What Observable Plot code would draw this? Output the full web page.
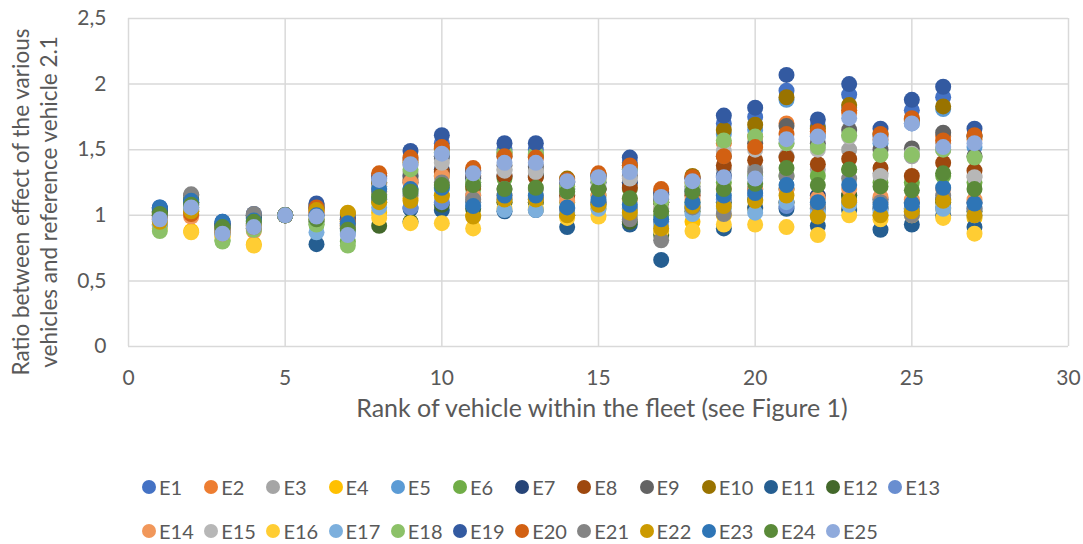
<!DOCTYPE html>
<html>
<head>
<meta charset="utf-8">
<script src="https://cdn.jsdelivr.net/npm/d3@7"></script>
<script src="https://cdn.jsdelivr.net/npm/@observablehq/plot@0.6"></script>
<style>
  html, body { margin: 0; padding: 0; background: #fff; }
  #chart { width: 1083px; height: 440px; }
  .legend { font-family: Lato, "Open Sans", sans-serif; font-size: 20px; color: #595959; width: 1083px; margin-top: 25px; }
  .lrow { display: flex; justify-content: flex-start; padding-left: 142px; height: 44px; align-items: center; }
  .litem { display: flex; align-items: center; width: 62.2px; flex: 0 0 62.2px; white-space: nowrap; }
  .sw { width: 14px; height: 14px; border-radius: 50%; margin-right: 3px; flex: 0 0 14px; }
</style>
</head>
<body>
<div id="chart"></div>
<div class="legend" id="legend"></div>
<script>
const ranks = [1,2,3,4,5,6,7,8,9,10,11,12,13,14,15,16,17,18,19,20,21,22,23,24,25,26,27];
const seriesNames = ["E1","E2","E3","E4","E5","E6","E7","E8","E9","E10","E11","E12","E13","E14","E15","E16","E17","E18","E19","E20","E21","E22","E23","E24","E25"];
const seriesColors = ["#4472C4","#ED7D31","#A5A5A5","#FFC000","#5B9BD5","#70AD47","#264478","#9E480E","#636363","#997300","#255E91","#43682B","#698ED0","#F1975A","#B7B7B7","#FFCD33","#7CAFDD","#8CC168","#335AA1","#D26012","#848484","#CC9A00","#2E75B6","#5A8A39","#8FAADC"];

const E1  = [1.06,1.08,0.95,0.98,1,1.05,0.95,1.28,1.43,1.55,1.33,1.5,1.5,1.25,1.3,1.4,1.15,1.28,1.7,1.75,1.95,1.68,1.92,1.6,1.8,1.9,1.6];
const E2  = [1.02,1.0,0.88,0.9,1,1.04,0.92,1.3,1.42,1.5,1.3,1.45,1.44,1.22,1.28,1.36,1.18,1.25,1.55,1.6,1.7,1.62,1.78,1.58,1.72,1.6,1.58];
const E3  = [0.98,1.1,0.86,0.93,1,1.01,0.9,1.2,1.33,1.43,1.25,1.35,1.34,1.15,1.2,1.25,1.0,1.15,1.35,1.36,1.45,1.35,1.5,1.32,1.45,1.5,1.3];
const E4  = [0.93,0.88,0.84,0.78,1,1.06,0.96,1.02,1.13,1.15,1.0,1.1,1.1,1.0,1.05,1.05,0.95,0.95,1.0,1.05,1.1,1.0,1.05,1.0,1.02,1.05,0.98];
const E5  = [1.04,1.05,0.92,0.95,1,0.96,0.88,1.15,1.3,1.45,1.25,1.45,1.45,1.2,1.25,1.35,1.1,1.2,1.62,1.65,1.88,1.6,1.82,1.55,1.7,1.81,1.52];
const E6  = [0.92,1.03,0.81,0.9,1,0.93,0.8,1.1,1.2,1.3,1.2,1.28,1.3,1.1,1.15,1.2,1.0,1.1,1.25,1.3,1.3,1.3,1.35,1.25,1.25,1.3,1.25];
const E7  = [1.03,1.09,0.93,1.0,1,1.07,0.97,1.22,1.25,1.35,1.28,1.3,1.3,1.2,1.2,1.25,1.1,1.18,1.3,1.2,1.1,1.15,1.15,1.12,1.1,1.12,1.1];
const E8  = [1.0,1.04,0.9,0.92,1,1.02,0.93,1.25,1.27,1.33,1.22,1.3,1.29,1.15,1.2,1.21,1.1,1.15,1.38,1.42,1.44,1.39,1.43,1.36,1.3,1.4,1.34];
const E9  = [1.02,1.15,0.91,1.0,1,1.05,0.97,1.24,1.3,1.45,1.3,1.38,1.37,1.25,1.25,1.3,1.12,1.22,1.45,1.55,1.68,1.55,1.65,1.5,1.51,1.63,1.45];
const E10 = [1.0,1.06,0.89,0.94,1,1.08,1.01,1.25,1.4,1.51,1.34,1.47,1.46,1.28,1.31,1.38,1.16,1.3,1.65,1.69,1.9,1.66,1.84,1.62,1.73,1.83,1.6];
const E11 = [1.05,1.1,0.94,0.98,1,0.78,0.9,1.12,1.05,1.04,1.1,1.03,1.04,0.91,1.1,0.93,0.66,1.05,0.9,1.06,1.05,0.92,1.04,0.89,0.93,1.0,0.91];
const E12 = [1.02,1.12,0.92,0.99,1,0.95,0.92,0.92,0.95,1.08,1.05,1.1,1.1,1.0,1.08,0.95,0.85,1.03,1.1,1.12,1.2,1.05,1.15,1.05,1.05,1.1,1.03];
const E13 = [0.99,1.08,0.88,0.93,1,1.07,0.94,1.12,1.06,1.1,1.15,1.12,1.12,1.05,1.1,1.05,0.95,1.08,1.12,1.15,1.07,1.05,1.1,1.05,1.05,1.06,1.05];
const E14 = [0.97,0.99,0.87,0.88,1,1.03,0.91,1.18,1.25,1.3,1.15,1.15,1.14,1.11,1.15,1.12,1.05,1.12,1.2,1.2,1.2,1.13,1.2,1.14,1.12,1.2,1.12];
const E15 = [0.96,1.07,0.85,0.94,1,1.0,0.9,1.22,1.38,1.4,1.25,1.34,1.33,1.18,1.22,1.28,1.05,1.2,1.49,1.5,1.55,1.5,1.6,1.3,1.47,1.55,1.29];
const E16 = [0.9,0.87,0.83,0.77,1,0.97,0.95,0.98,0.94,0.94,0.9,1.05,1.05,0.98,0.99,0.99,0.88,0.88,0.93,0.93,0.91,0.85,1.0,0.97,1.0,0.98,0.86];
const E17 = [0.93,1.04,0.86,0.9,1,0.87,0.86,1.06,1.17,1.2,1.08,1.04,1.04,1.02,1.05,1.0,0.92,1.01,1.05,1.02,1.1,1.02,1.08,1.02,1.04,1.05,1.0];
const E18 = [0.88,1.06,0.8,0.89,1,0.93,0.77,1.16,1.35,1.48,1.25,1.48,1.47,1.22,1.27,1.35,1.1,1.24,1.57,1.6,1.55,1.52,1.61,1.46,1.46,1.5,1.44];
const E19 = [1.05,1.1,0.94,1.01,1,1.09,0.98,1.3,1.49,1.61,1.34,1.55,1.55,1.26,1.3,1.44,1.17,1.28,1.76,1.82,2.07,1.73,2.0,1.66,1.88,1.98,1.66];
const E20 = [0.98,1.01,0.87,0.91,1,1.06,0.95,1.32,1.44,1.52,1.36,1.45,1.44,1.27,1.32,1.38,1.2,1.29,1.45,1.52,1.62,1.64,1.8,1.62,1.74,1.57,1.61];
const E21 = [1.0,1.16,0.89,1.01,1,1.0,0.91,1.18,1.15,1.25,1.12,1.2,1.2,1.05,1.1,0.97,0.81,1.06,1.01,1.33,1.3,1.08,1.28,1.1,1.0,1.15,1.05];
const E22 = [0.95,1.03,0.86,0.92,1,1.04,1.02,1.1,1.11,1.15,0.99,1.12,1.12,1.0,1.08,1.02,0.9,1.07,1.07,1.11,1.15,0.99,1.11,1.0,1.03,1.11,1.0];
const E23 = [1.06,1.11,0.95,0.96,1,1.0,0.94,1.2,1.2,1.21,1.07,1.15,1.15,1.06,1.12,1.08,0.97,1.1,1.15,1.17,1.23,1.1,1.23,1.08,1.09,1.21,1.09];
const E24 = [1.01,1.08,0.91,0.95,1,0.97,0.89,1.14,1.18,1.23,1.23,1.2,1.21,1.18,1.2,1.13,1.03,1.18,1.2,1.24,1.36,1.23,1.35,1.22,1.19,1.32,1.2];
const E25 = [0.97,1.06,0.86,0.91,1,0.99,0.85,1.27,1.39,1.47,1.32,1.4,1.4,1.26,1.29,1.33,1.14,1.26,1.29,1.28,1.58,1.6,1.74,1.57,1.70,1.52,1.55];

const xTicks = [0,5,10,15,20,25,30];
const yTicks = [0,0.5,1,1.5,2,2.5];
const xTitle = "Rank of vehicle within the fleet (see Figure 1)";
const yTitle = ["Ratio between effect of the various", "vehicles and reference vehicle 2.1"];

const allSeries = [E1,E2,E3,E4,E5,E6,E7,E8,E9,E10,E11,E12,E13,E14,E15,E16,E17,E18,E19,E20,E21,E22,E23,E24,E25];
const data = [];
allSeries.forEach((vals, i) => {
  vals.forEach((v, j) => data.push({series: seriesNames[i], rank: ranks[j], value: v}));
});

const fmt = d => String(d).replace(".", ",");
const font = "Lato, 'Open Sans', sans-serif";

const chart = Plot.plot({
  width: 1083,
  height: 440,
  marginLeft: 128,
  marginRight: 15,
  marginTop: 18,
  marginBottom: 94,
  style: {fontFamily: font, fontSize: "21px", color: "#595959", background: "#fff"},
  x: {domain: [0, 30]},
  y: {domain: [0, 2.5]},
  color: {domain: seriesNames, range: seriesColors},
  marks: [
    Plot.gridX(xTicks, {stroke: "#D9D9D9", strokeOpacity: 1, strokeWidth: 1.5}),
    Plot.gridY(yTicks, {stroke: "#D9D9D9", strokeOpacity: 1, strokeWidth: 1.5}),
    Plot.axisX({ticks: xTicks, tickSize: 0, tickPadding: 24, label: null, fill: "#595959"}),
    Plot.axisY({ticks: yTicks, tickSize: 0, tickPadding: 22, tickFormat: fmt, label: null, fill: "#595959"}),
    Plot.dot(data, {x: "rank", y: "value", fill: "series", r: 8, stroke: null})
  ]
});

const svg = d3.select(chart);
svg.append("text")
  .attr("x", 602).attr("y", 411)
  .attr("text-anchor", "middle").attr("dominant-baseline", "middle")
  .attr("fill", "#595959").style("font-family", font).style("font-size", "25px")
  .text(xTitle);
yTitle.forEach((t, i) => {
  svg.append("text")
    .attr("transform", `translate(${23 + i * 28},202) rotate(-90)`)
    .attr("text-anchor", "middle").attr("dominant-baseline", "middle")
    .attr("fill", "#595959").style("font-family", font).style("font-size", "22.5px")
    .text(t);
});
document.getElementById("chart").appendChild(chart);

const legend = document.getElementById("legend");
[seriesNames.slice(0, 13), seriesNames.slice(13)].forEach(rowNames => {
  const row = document.createElement("div");
  row.className = "lrow";
  rowNames.forEach(n => {
    const item = document.createElement("div");
    item.className = "litem";
    const sw = document.createElement("span");
    sw.className = "sw";
    sw.style.background = seriesColors[seriesNames.indexOf(n)];
    const lab = document.createElement("span");
    lab.textContent = n;
    item.appendChild(sw); item.appendChild(lab);
    row.appendChild(item);
  });
  legend.appendChild(row);
});
</script>
</body>
</html>
